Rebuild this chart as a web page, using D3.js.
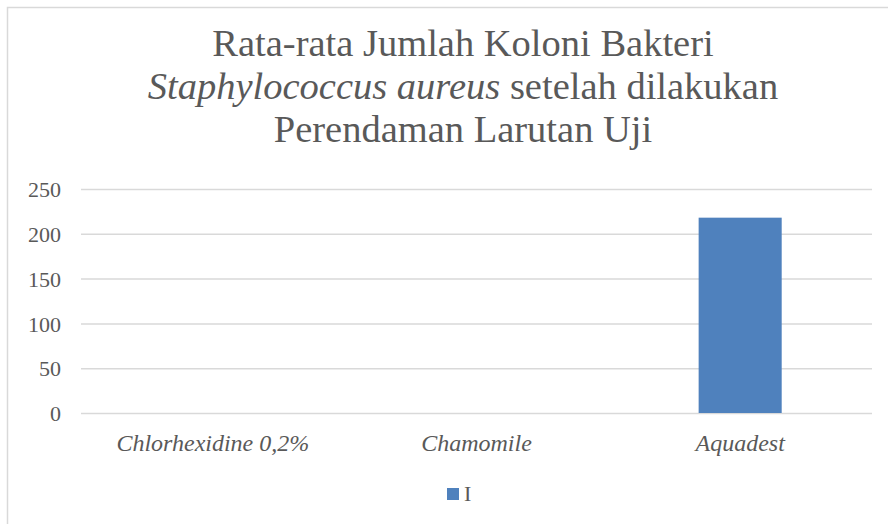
<!DOCTYPE html>
<meta charset="utf-8">
<style>
  body { margin: 0; background: white; }
  text { font-family: 'Liberation Serif', 'Times New Roman', Times, 'DejaVu Serif', serif; fill: #595959; }
  .title { font-size: 38.5px; text-anchor: middle; }
  .cat { font-size: 24px; font-style: italic; text-anchor: middle; }
  .legend { font-size: 22px; }
</style>
<body>
<script src="https://cdn.jsdelivr.net/npm/d3@7"></script>
<script>

// data
const categories = ["Chlorhexidine 0,2%", "Chamomile", "Aquadest"]
const values = [0, 0, 218]
const yTicks = [0, 50, 100, 150, 200, 250]
const seriesName = "I"

const W = 888, H = 524
const plot = {left: 81, right: 872, top: 189, bottom: 413}
const serif = "'Liberation Serif', 'Times New Roman', Times, serif"
const titleX = 463

const svg = d3.select("body").append("svg")
    .attr("width", W)
    .attr("height", H)

// chart border (runs off the right and bottom)
svg.append("rect")
  .attr("x", 7.5).attr("y", 7.5)
  .attr("width", W + 20).attr("height", H + 20)
  .attr("fill", "white")
  .attr("stroke", "#d9d9d9")
  .attr("stroke-width", 1.5)

// title
const title = svg.append("text").attr("class", "title").attr("font-family", serif)
title.append("tspan").attr("x", titleX).attr("y", 56).text("Rata-rata Jumlah Koloni Bakteri")
const l2 = title.append("tspan").attr("x", titleX).attr("y", 99)
l2.append("tspan").style("font-style", "italic").text("Staphylococcus aureus")
l2.append("tspan").text(" setelah dilakukan")
title.append("tspan").attr("x", titleX).attr("y", 142).text("Perendaman Larutan Uji")

const x = d3.scaleBand()
    .domain(categories)
    .range([plot.left, plot.right])
    .paddingInner(0.685)
    .paddingOuter(0.3425)

const y = d3.scaleLinear()
    .domain([0, 250])
    .range([plot.bottom, plot.top])

// gridlines + y labels
const yAxis = svg.append("g")
  .attr("transform", `translate(${plot.left}, 0)`)
  .call(d3.axisLeft(y).tickValues(yTicks).tickSize(-(plot.right - plot.left)).tickPadding(20))
yAxis.attr("font-family", serif).attr("font-size", 22)
yAxis.select(".domain").remove()
yAxis.selectAll(".tick line").attr("stroke", "#d9d9d9").attr("stroke-width", 1.5)
yAxis.selectAll(".tick text").attr("dy", "0.35em").attr("fill", "#595959")

// bars
svg.selectAll(".bar")
  .data(values)
  .enter().append("rect")
    .attr("class", "bar")
    .attr("x", (d, i) => x(categories[i]))
    .attr("width", x.bandwidth())
    .attr("y", d => y(d))
    .attr("height", d => y(0) - y(d))
    .attr("fill", "#4f81bd")

// category labels
svg.selectAll(".cat")
  .data(categories)
  .enter().append("text")
    .attr("class", "cat")
    .attr("x", d => x(d) + x.bandwidth() / 2)
    .attr("y", 451)
    .text(d => d)

// legend
svg.append("rect")
  .attr("x", 447).attr("y", 488)
  .attr("width", 12).attr("height", 12)
  .attr("fill", "#4f81bd")
svg.append("text")
  .attr("class", "legend")
  .attr("x", 464).attr("y", 501)
  .text(seriesName)

</script>
</body>
